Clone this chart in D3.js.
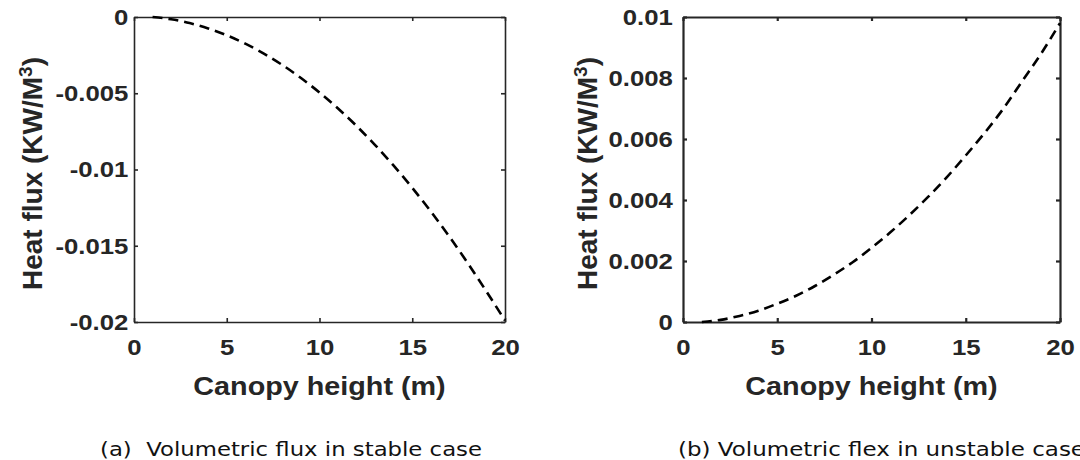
<!DOCTYPE html>
<html>
<head>
<meta charset="utf-8">
<script src="https://cdn.jsdelivr.net/npm/d3@7"></script>
<style>
  body { margin: 0; background: #fff; }
  svg text { font-family: "Liberation Sans", Arial, sans-serif; font-weight: bold; fill: #262626; }
  svg text.caption { font-family: "DejaVu Sans", sans-serif; font-weight: normal; fill: #111; white-space: pre; }
</style>
</head>
<body>
<svg id="chart"></svg>
<script>
// Canopy height (m)
const heights = [1, 2, 3, 4, 5, 6, 7, 8, 9, 10, 11, 12, 13, 14, 15, 16, 17, 18, 19, 20];

// Volumetric heat flux (KW/M^3)
const stableFlux = [0, -0.00015, -0.0004, -0.00075, -0.0012, -0.00175, -0.0024, -0.00315, -0.004, -0.00495,
                    -0.006, -0.00715, -0.0084, -0.00975, -0.0112, -0.01275, -0.0144, -0.01615, -0.018, -0.0199];
const unstableFlux = [0, 0.00007, 0.0002, 0.00037, 0.0006, 0.00086, 0.00118, 0.00155, 0.00196, 0.00243,
                      0.00294, 0.0035, 0.0041, 0.00475, 0.00546, 0.0062, 0.007, 0.0079, 0.0088, 0.0098];

const xTickValues = [0, 5, 10, 15, 20];
const stableTickValues = [0, -0.005, -0.01, -0.015, -0.02];
const stableTickLabels = ["0", "-0.005", "-0.01", "-0.015", "-0.02"];
const unstableTickValues = [0, 0.002, 0.004, 0.006, 0.008, 0.01];
const unstableTickLabels = ["0", "0.002", "0.004", "0.006", "0.008", "0.01"];

const svg = d3.select("#chart")
    .attr("width", 1080)
    .attr("height", 460);

const axisColor = "#262626";

function drawPanel(p) {
    const x = d3.scaleLinear().domain([0, 20]).range([p.left, p.right]);
    const y = d3.scaleLinear().domain(p.yDomain).range([p.bottom, p.top]);
    const g = svg.append("g");

    // bottom axis with labels
    g.append("g")
     .attr("transform", `translate(0,${p.bottom})`)
     .call(d3.axisBottom(x).tickValues(xTickValues).tickSize(-4).tickSizeOuter(0).tickPadding(17))
     .call(a => a.selectAll("text").style("font-size", "23px").attr("transform", "scale(1.12,1)"));

    // top axis (ticks only)
    g.append("g")
     .attr("transform", `translate(0,${p.top})`)
     .call(d3.axisTop(x).tickValues(xTickValues).tickSize(-4).tickSizeOuter(0).tickFormat(""));

    // left axis with labels
    g.append("g")
     .attr("transform", `translate(${p.left},0)`)
     .call(d3.axisLeft(y).tickValues(p.yTicks).tickSize(-4).tickSizeOuter(0).tickPadding(p.yPad)
             .tickFormat((d, i) => p.yLabels[i]))
     .call(a => a.selectAll("text").style("font-size", "23px").attr("transform", "scale(1.12,1)"));

    // right axis (ticks only)
    g.append("g")
     .attr("transform", `translate(${p.right},0)`)
     .call(d3.axisRight(y).tickValues(p.yTicks).tickSize(-4).tickSizeOuter(0).tickFormat(""));

    g.selectAll(".domain, .tick line")
     .attr("stroke", axisColor)
     .attr("stroke-width", p.frameWidth);

    // dashed curve
    const line = d3.line()
        .x((d, i) => x(heights[i]))
        .y(d => y(d))
        .curve(d3.curveMonotoneX);

    g.append("path")
     .datum(p.values)
     .attr("d", line)
     .attr("fill", "none")
     .attr("stroke", "#000")
     .attr("stroke-width", 2.6)
     .attr("stroke-dasharray", "10,6");

    // x label
    g.append("text")
     .attr("transform", `translate(${(p.left + p.right) / 2},395) scale(1.15,1)`)
     .attr("text-anchor", "middle")
     .style("font-size", "25px")
     .text("Canopy height (m)");

    // y label
    const yl = g.append("text")
     .attr("transform", `translate(${p.yLabelX},290) rotate(-90)`)
     .attr("text-anchor", "start")
     .style("font-size", "28px");
    yl.append("tspan").text("Heat flux (KW/M");
    yl.append("tspan").style("font-size", "19px").attr("baseline-shift", "super").text("3");
    yl.append("tspan").text(")");

    // caption
    g.append("text")
     .attr("class", "caption")
     .attr("x", p.capX)
     .attr("y", 456)
     .style("font-size", "19px")
     .attr("textLength", p.capLen)
     .attr("lengthAdjust", "spacingAndGlyphs")
     .text(p.caption);
}

drawPanel({
    left: 134, right: 505, top: 17, bottom: 322, frameWidth: 1.6,
    yDomain: [-0.02, 0], yTicks: stableTickValues, yLabels: stableTickLabels, yPad: 5,
    values: stableFlux, yLabelX: 42,
    caption: "(a)  Volumetric flux in stable case", capX: 100, capLen: 382
});

drawPanel({
    left: 683, right: 1060, top: 17, bottom: 322, frameWidth: 2.2,
    yDomain: [0, 0.01], yTicks: unstableTickValues, yLabels: unstableTickLabels, yPad: 9,
    values: unstableFlux, yLabelX: 597,
    caption: "(b) Volumetric flex in unstable case", capX: 678, capLen: 407
});
</script>
</body>
</html>
